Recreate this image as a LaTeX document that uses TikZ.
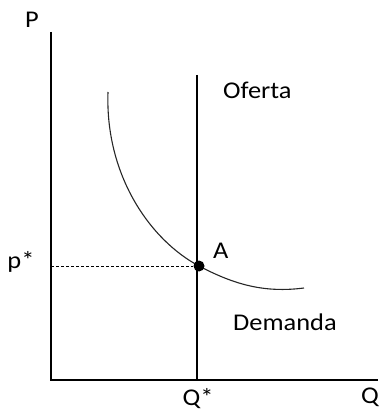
\documentclass[tikz,border=0pt]{standalone}
\usepackage{fontspec}
\setmainfont{Carlito}
\newcommand{\wtxt}[1]{\scalebox{1.1}[1]{#1}}
\begin{document}
\begin{tikzpicture}[x=1pt,y=-1pt,
  lbl/.style={inner sep=0pt,font=\fontsize{24}{28}\selectfont},
  axis/.style={line width=1.6pt,black},
  curveline/.style={line width=1.1pt,black!85}]
\useasboundingbox (0,0) rectangle (382,411);
% axes
\coordinate (top) at (51,32);
\coordinate (origin) at (51,380);
\coordinate (right) at (378,380);
\draw[axis] (top) -- (origin) -- (right);
% supply line
\coordinate (stop) at (197,75);
\coordinate (sbot) at (197,380);
\draw[line width=1.2pt] (stop) -- (sbot);
% demand curve
\draw[curveline] (108,92) .. controls (105,175) and (150,240) .. (199,266)
  .. controls (235,285) and (265,293) .. (304,288);
% equilibrium
\node[circle,fill=black,inner sep=0pt,minimum size=11pt] (A) at (199,266) {};
\coordinate (pstar) at (51,266);
\draw[line width=0.9pt,dash pattern=on 3pt off 2pt] (pstar) -- (A);
% labels
\node[lbl] (P) at (32,20) {\wtxt{P}};
\node[lbl] (Q) at (370,397) {\wtxt{Q}};
\node[lbl] (qs) at (198,399) {\wtxt{Q*}};
\node[lbl] (ps) at (21,262) {\wtxt{p*}};
\node[lbl,anchor=base west] (Al) at (213,258) {\wtxt{A}};
\node[lbl,anchor=base west] (of) at (223,99) {\wtxt{Oferta}};
\node[lbl,anchor=base west] (de) at (233,330) {\wtxt{Demanda}};
\end{tikzpicture}
\end{document}
